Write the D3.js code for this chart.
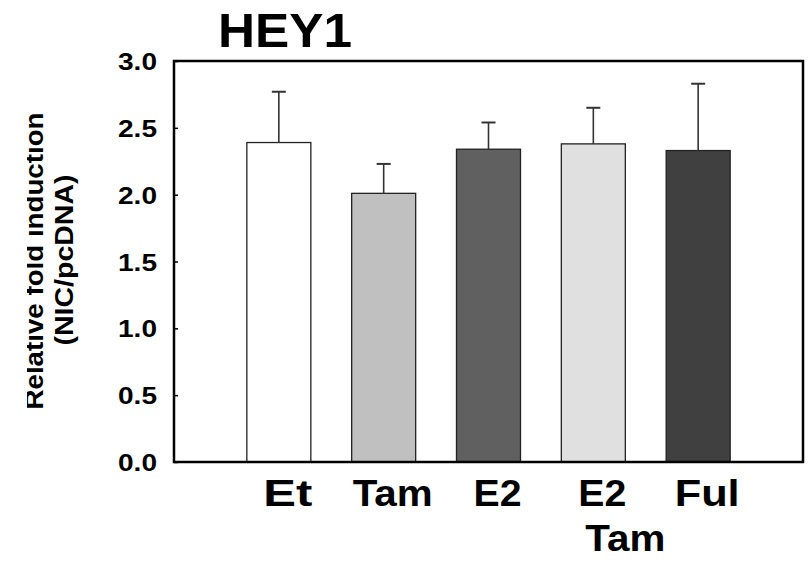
<!DOCTYPE html>
<html>
<head>
<meta charset="utf-8">
<script src="https://cdn.jsdelivr.net/npm/d3@7"></script>
<style>
  body { margin: 0; background: #fff; }
  text { font-family: Arial, "Liberation Sans", sans-serif; font-weight: bold; }
</style>
</head>
<body>
<div id="chart"></div>
<script>
// values
var groups = ["Et", "Tam", "E2", "E2 Tam", "Ful"];
var groupLines = [["Et"], ["Tam"], ["E2"], ["E2", "Tam"], ["Ful"]];
var means = [2.39, 2.01, 2.34, 2.38, 2.33];
var errs = [0.38, 0.22, 0.20, 0.27, 0.50];
var fills = ["#ffffff", "#c0c0c0", "#606060", "#e0e0e0", "#404040"];
var yTicks = [0, 0.5, 1.0, 1.5, 2.0, 2.5, 3.0];

var W = 811, H = 587;
var margin = {top: 61, right: 8, bottom: 125, left: 174},
    width = W - margin.left - margin.right,
    height = H - margin.top - margin.bottom;

var svg = d3.select("#chart").append("svg")
    .attr("width", W)
    .attr("height", H);

var g = svg.append("g")
    .attr("transform", "translate(" + margin.left + "," + margin.top + ")");

var x = d3.scalePoint()
    .domain(groups)
    .range([0, width])
    .padding(1);

var y = d3.scaleLinear()
    .domain([0, 3])
    .range([height, 0]);

var barW = 64;

// bars
g.selectAll(".bar")
    .data(groups)
    .enter()
    .append("rect")
    .attr("class", "bar")
    .attr("x", function(d) { return x(d) - barW / 2; })
    .attr("width", barW)
    .attr("y", function(d, i) { return y(means[i]); })
    .attr("height", function(d, i) { return height - y(means[i]); })
    .style("fill", function(d, i) { return fills[i]; })
    .style("stroke", "#222")
    .style("stroke-width", 1.3);

// error bars (upper only)
var eb = g.selectAll(".err")
    .data(groups)
    .enter()
    .append("g")
    .attr("class", "err")
    .style("stroke", "#333")
    .style("stroke-width", 1.6);

eb.append("line")
    .attr("x1", function(d) { return x(d); })
    .attr("x2", function(d) { return x(d); })
    .attr("y1", function(d, i) { return y(means[i]); })
    .attr("y2", function(d, i) { return y(means[i] + errs[i]); });

eb.append("line")
    .attr("x1", function(d) { return x(d) - 7; })
    .attr("x2", function(d) { return x(d) + 7; })
    .attr("y1", function(d, i) { return y(means[i] + errs[i]); })
    .attr("y2", function(d, i) { return y(means[i] + errs[i]); })
    .style("stroke-width", 2);

// y axis, ticks pointing inward
var yAxis = g.append("g")
    .call(d3.axisLeft(y)
        .tickValues(yTicks)
        .tickFormat(d3.format(".1f"))
        .tickSizeInner(-4)
        .tickSizeOuter(0)
        .tickPadding(17));

yAxis.select(".domain").remove();
yAxis.selectAll(".tick line").style("stroke", "#000").style("stroke-width", 1.5);
yAxis.selectAll(".tick text")
    .style("font-size", "24px")
    .style("fill", "#000")
    .attr("dy", "0.36em")
    .attr("textLength", 39)
    .attr("lengthAdjust", "spacingAndGlyphs");

// frame
g.append("rect")
    .attr("x", 0)
    .attr("y", 0)
    .attr("width", width)
    .attr("height", height)
    .style("fill", "none")
    .style("stroke", "#000")
    .style("stroke-width", 2.5);

// x labels
var lblLen = {"Et": 49, "Tam": 80, "E2": 48, "Ful": 65};
var xl = g.selectAll(".xl")
    .data(groups)
    .enter()
    .append("g")
    .attr("class", "xl")
    .attr("transform", function(d) { return "translate(" + (x(d) + 9) + "," + (height + 44) + ")"; });

xl.each(function(d, i) {
    var sel = d3.select(this);
    groupLines[i].forEach(function(t, k) {
        sel.append("text")
            .attr("x", k === 0 ? 0 : 23)
            .attr("y", k * 45)
            .attr("text-anchor", "middle")
            .style("font-size", "37px")
            .attr("textLength", lblLen[t])
            .attr("lengthAdjust", "spacingAndGlyphs")
            .text(t);
    });
});

// title
svg.append("text")
    .attr("x", 218)
    .attr("y", 47)
    .style("font-size", "48px")
    .attr("textLength", 134)
    .attr("lengthAdjust", "spacingAndGlyphs")
    .text("HEY1");

// y title, first line clipped at the left edge
svg.append("clipPath")
    .attr("id", "clipL")
    .append("rect")
    .attr("x", 27).attr("y", 0).attr("width", 200).attr("height", H);

var yt = svg.append("g").attr("clip-path", "url(#clipL)");
yt.append("text")
    .attr("transform", "translate(43,261) rotate(-90)")
    .attr("text-anchor", "middle")
    .style("font-size", "26px")
    .attr("textLength", 297)
    .attr("lengthAdjust", "spacingAndGlyphs")
    .text("Relative fold induction");

svg.append("text")
    .attr("transform", "translate(73,260) rotate(-90)")
    .attr("text-anchor", "middle")
    .style("font-size", "25px")
    .attr("textLength", 171)
    .attr("lengthAdjust", "spacingAndGlyphs")
    .text("(NIC/pcDNA)");
</script>
</body>
</html>
